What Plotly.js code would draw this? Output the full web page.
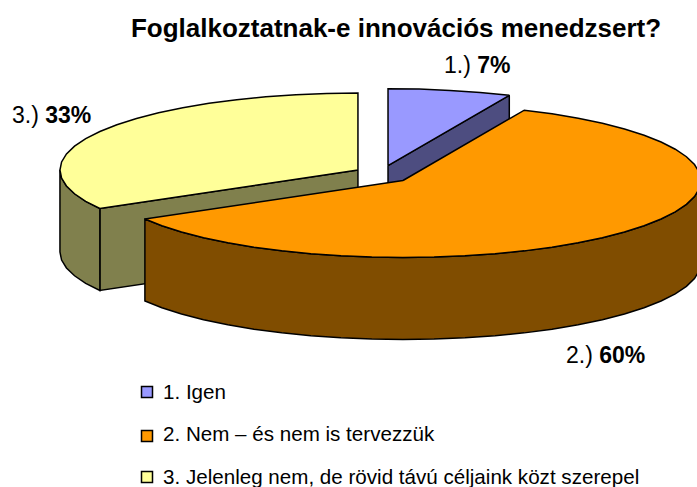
<!DOCTYPE html>
<html><head><meta charset="utf-8">
<script src="https://cdn.plot.ly/plotly-3.0.1.min.js"></script>
<style>html,body{margin:0;padding:0;background:#fff}#c{width:697px;height:487px}</style>
</head><body><div id="c"></div>
<script>
const titleText = "Foglalkoztatnak-e innovációs menedzsert?";
const categories = ["1. Igen", "2. Nem – és nem is tervezzük", "3. Jelenleg nem, de rövid távú céljaink közt szerepel"];
const shortLabels = ["1.)", "2.)", "3.)"];
const values = [6.67, 60, 33.33];
const topColors = ["#9999FF", "#FF9900", "#FFFF99"];
const sideColors = ["#4D4D80", "#804D00", "#80804D"];
const labelX = [477, 605, 51];
const labelY = [65, 355, 115];
const legendMarkerX = 147, legendTextX = 161;
const legendMarkerY = [392, 436, 477];
const legendTextY = [391, 433, 476];

// pie geometry
const cx = 382.2, cy = 174.5, rx = 298, ry = 77, depth = 82, explodeX = 28, explodeY = 9, stepDeg = 6;
const rad = d => d * Math.PI / 180;
const total = values.reduce((a, b) => a + b, 0);
let acc = 0;
const slices = values.map((v, i) => {
  const a0 = acc / total * 360; acc += v; const a1 = acc / total * 360; const m = (a0 + a1) / 2;
  return {a0, a1, cx: cx + explodeX * Math.sin(rad(m)), cy: cy - explodeY * Math.cos(rad(m)), i};
});
const rim = (s, a, dz) => [s.cx + rx * Math.sin(rad(a)), s.cy - ry * Math.cos(rad(a)) + (dz || 0)];
function arc(s, a0, a1, dz) {
  const pts = [];
  const n = Math.max(1, Math.round((a1 - a0) / stepDeg));
  for (let k = 0; k <= n; k++) pts.push(rim(s, a0 + (a1 - a0) * k / n, dz));
  return pts;
}
function poly(pts, fill) {
  const closed = pts.concat([pts[0]]);
  return {x: closed.map(p => p[0]), y: closed.map(p => p[1]), mode: "lines", fill: "toself", fillcolor: fill,
    line: {color: "#000", width: 1.5, simplify: false}, hoverinfo: "skip", showlegend: false, type: "scatter"};
}
const traces = [];
function drawSlice(s) {
  const side = sideColors[s.i];
  const ap = [s.cx, s.cy], ap2 = [s.cx, s.cy + depth];
  if (s.i === 0) traces.push(poly([ap, rim(s, s.a1), rim(s, s.a1, depth), ap2], side));
  if (s.i === 2) traces.push(poly([ap, rim(s, s.a0), rim(s, s.a0, depth), ap2], side));
  if (s.i !== 0) {
    const lo = Math.max(s.a0, 90), hi = Math.min(s.a1, 270);
    traces.push(poly(arc(s, lo, hi).concat(arc(s, lo, hi, depth).reverse()), side));
  }
  traces.push(poly([ap].concat(arc(s, s.a0, s.a1)), topColors[s.i]));
}
[2, 0, 1].forEach(i => drawSlice(slices[i]));

// legend swatches
categories.forEach((c, i) => traces.push({
  type: "scatter", mode: "markers", x: [legendMarkerX], y: [legendMarkerY[i]], name: c, showlegend: false,
  marker: {symbol: "square", size: 11, color: topColors[i], line: {color: "#000", width: 1.5}}, hoverinfo: "skip"
}));

const labelFont = {family: "Liberation Sans", size: 23, color: "#000"};
const legendFont = {family: "Liberation Sans", size: 20.6, color: "#000"};
const annotations = values.map((v, i) => ({
  x: labelX[i], y: labelY[i], xref: "x", yref: "y", showarrow: false,
  text: shortLabels[i] + " <b>" + Math.round(v) + "%</b>", font: labelFont
})).concat(categories.map((c, i) => ({
  x: legendTextX, y: legendTextY[i], xref: "x", yref: "y", xanchor: "left", showarrow: false, text: c, font: legendFont
})));

const layout = {
  width: 697, height: 487, margin: {l: 0, r: 0, t: 0, b: 0},
  paper_bgcolor: "#fff", plot_bgcolor: "#fff",
  title: {text: "<b>" + titleText + "</b>", x: 396 / 697, xanchor: "center", y: 1 - 28 / 487, yanchor: "middle",
    font: {family: "Liberation Sans", size: 26, color: "#000"}},
  xaxis: {range: [0, 697], visible: false, fixedrange: true},
  yaxis: {range: [487, 0], visible: false, fixedrange: true},
  showlegend: false,
  annotations
};
Plotly.newPlot("c", traces, layout, {displayModeBar: false, staticPlot: true});
</script></body></html>
